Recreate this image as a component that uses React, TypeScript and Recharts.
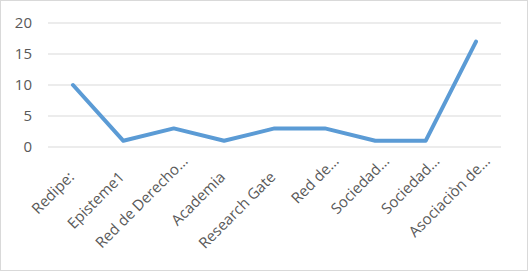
import { LineChart, Line, XAxis, YAxis, CartesianGrid } from "recharts";

const categories = [
  "Redipe:",
  "Episteme1",
  "Red de Derecho…",
  "Academia",
  "Research Gate",
  "Red de…",
  "Sociedad…",
  "Sociedad…",
  "Asociaciòn de…",
];
const values = [10, 1, 3, 1, 3, 3, 1, 1, 17];
const yTicks = [0, 5, 10, 15, 20];

const data = categories.map((name, i) => ({ name, value: values[i] }));

const FONT = "'Open Sans', sans-serif";

// Excel-style rotated labels, end-aligned near the tick; truncated ones
// (first line of a wrapped label) sit a bit further up the diagonal.
function AngledTick(props: any) {
  const { x, y, payload } = props;
  const label: string = payload.value;
  const truncated = label.endsWith("…");
  const tx = truncated ? x + 15 : x + 2;
  const ty = truncated ? y + 7 : y + 23;
  return (
    <text
      x={tx}
      y={ty}
      transform={`rotate(-45, ${tx}, ${ty})`}
      textAnchor="end"
      fill="#595959"
      fontSize={15}
      fontFamily={FONT}
    >
      {label}
    </text>
  );
}

export default function App() {
  return (
    <div
      style={{
        position: "absolute",
        left: 0,
        top: 0,
        width: 528,
        height: 271,
        border: "1px solid #d9d9d9",
        boxSizing: "border-box",
        background: "#fff",
      }}
    >
      <LineChart
        width={526}
        height={269}
        data={data}
        margin={{ top: 22, right: 26, bottom: 10, left: 0 }}
      >
        <CartesianGrid vertical={false} stroke="#d9d9d9" strokeWidth={1.2} />
        <XAxis
          dataKey="name"
          axisLine={false}
          tickLine={false}
          interval={0}
          height={113}
          padding={{ left: 25, right: 25 }}
          tick={<AngledTick />}
        />
        <YAxis
          width={47}
          domain={[0, 20]}
          ticks={yTicks}
          axisLine={false}
          tickLine={false}
          tickMargin={10}
          tick={{ fill: "#595959", fontSize: 15, fontFamily: FONT }}
        />
        <Line
          type="linear"
          dataKey="value"
          stroke="#5b9bd5"
          strokeWidth={4}
          strokeLinejoin="round"
          strokeLinecap="round"
          dot={false}
          isAnimationActive={false}
        />
      </LineChart>
    </div>
  );
}
